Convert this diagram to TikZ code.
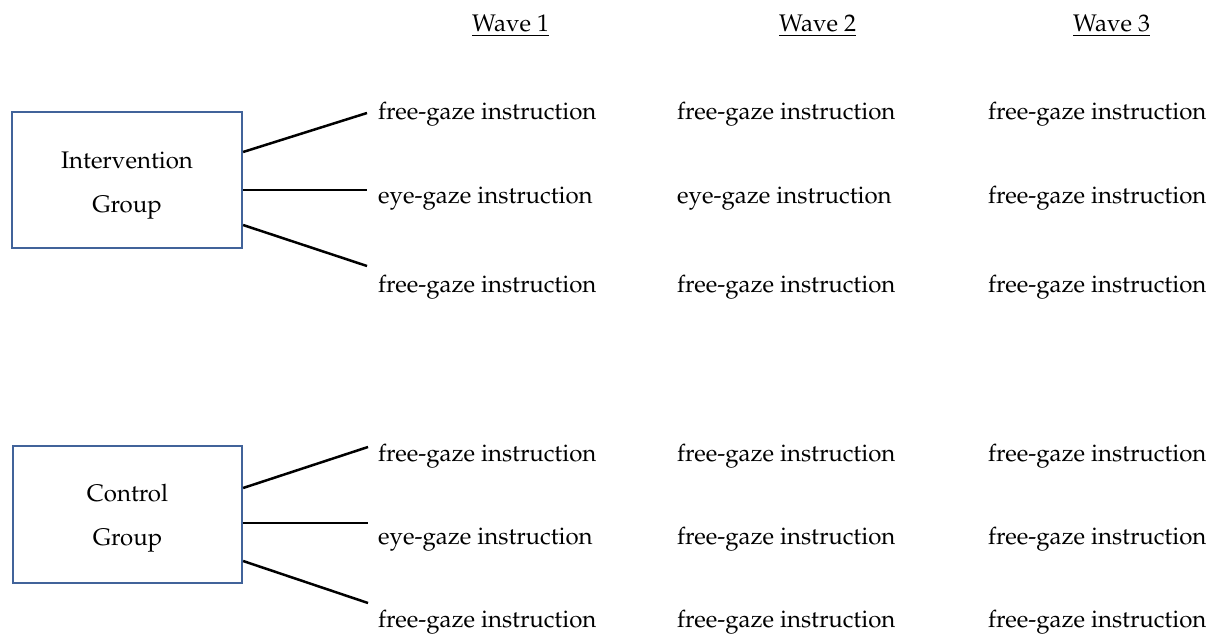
\documentclass[tikz,border=0pt]{standalone}
\usepackage[T1]{fontenc}
\usepackage{mathpazo}
\definecolor{boxblue}{HTML}{41639A}
\tikzset{
  grp/.style={draw=boxblue, line width=2.2pt, inner sep=0pt},
  grptext/.style={anchor=base, inner sep=0pt, align=center, font=\fontsize{24}{44}\selectfont},
  lbl/.style={anchor=base west, inner sep=0pt, font=\fontsize{24}{28}\selectfont},
  hdr/.style={anchor=base west, inner sep=0pt, font=\fontsize{24}{28}\selectfont},
  conn/.style={line width=2.5pt, black}
}
\begin{document}
\begin{tikzpicture}[x=1pt, y=-1pt]
\useasboundingbox (0,0) rectangle (1217,639);
% headers
\node[hdr] (w1) at (472,32) {\underline{Wave 1}};
\node[hdr] (w2) at (779,32) {\underline{Wave 2}};
\node[hdr] (w3) at (1073,32) {\underline{Wave 3}};
% groups
\node[grp, minimum width=230pt, minimum height=136pt] (ig) at (127,180) {};
\node[grptext] (igt) at (127,212) {Intervention\\Group};
\node[grp, minimum width=229pt, minimum height=137pt] (cg) at (127.5,514.5) {};
\node[grptext] (cgt) at (127.5,545) {Control\\Group};
% intervention rows
\node[lbl] (i11) at (378,120) {free-gaze instruction};
\node[lbl] (i12) at (677,120) {free-gaze instruction};
\node[lbl] (i13) at (988,120) {free-gaze instruction};
\node[lbl] (i21) at (378,204) {eye-gaze instruction};
\node[lbl] (i22) at (677,204) {eye-gaze instruction};
\node[lbl] (i23) at (988,204) {free-gaze instruction};
\node[lbl] (i31) at (378,292) {free-gaze instruction};
\node[lbl] (i32) at (677,292) {free-gaze instruction};
\node[lbl] (i33) at (988,292) {free-gaze instruction};
% control rows
\node[lbl] (c11) at (378,461) {free-gaze instruction};
\node[lbl] (c12) at (677,461) {free-gaze instruction};
\node[lbl] (c13) at (988,461) {free-gaze instruction};
\node[lbl] (c21) at (378,544) {eye-gaze instruction};
\node[lbl] (c22) at (677,544) {free-gaze instruction};
\node[lbl] (c23) at (988,544) {free-gaze instruction};
\node[lbl] (c31) at (378,627) {free-gaze instruction};
\node[lbl] (c32) at (677,627) {free-gaze instruction};
\node[lbl] (c33) at (988,627) {free-gaze instruction};
% connector ends
\coordinate (ie1) at (367,113);
\coordinate (ie2) at (367,190);
\coordinate (ie3) at (367,266);
\coordinate (ce1) at (368,447);
\coordinate (ce2) at (368,523);
\coordinate (ce3) at (368,603);
\draw[conn] (ig.east |- 0,152) -- (ie1);
\draw[conn] (ig.east |- 0,190) -- (ie2);
\draw[conn] (ig.east |- 0,225) -- (ie3);
\draw[conn] (cg.east |- 0,488) -- (ce1);
\draw[conn] (cg.east |- 0,523) -- (ce2);
\draw[conn] (cg.east |- 0,561) -- (ce3);
\end{tikzpicture}
\end{document}
